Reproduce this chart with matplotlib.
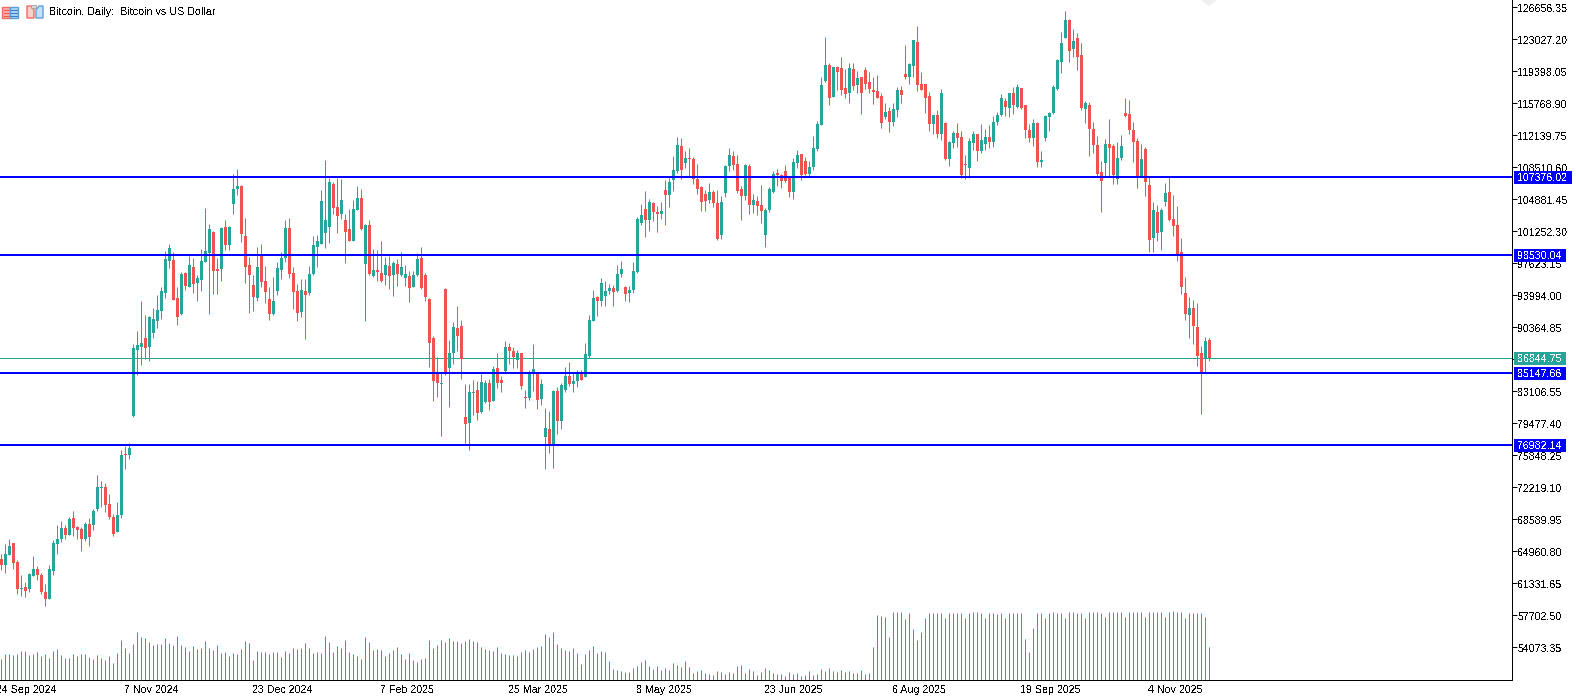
import numpy as np
import matplotlib
matplotlib.use("Agg")
import matplotlib.pyplot as plt
from matplotlib.patches import Rectangle, Polygon
from matplotlib.transforms import blended_transform_factory, ScaledTranslation

# BTCUSD daily, prices in thousands of dollars
opens = [64.1,63.4,64.5,65.9,63.7,60.65,60.9,60.65,62.1,62.9,
62.25,60.3,59.5,62.7,65.75,66.3,67.6,66.8,68.7,67.7,
67.45,66.4,68.1,67.9,69.7,72.1,72.2,70.3,68.8,67.2,
69.05,76.0,75.85,80.3,87.75,88.1,89.1,88.1,89.7,91.05,
92.2,94.3,97.85,98.0,93.65,91.85,96.5,94.9,97.15,95.35,
95.7,97.75,98.75,101.15,96.95,96.95,101.7,99.65,104.3,106.0,
106.35,100.7,97.4,95.15,93.65,98.4,95.6,93.55,91.85,94.45,
96.85,98.2,101.6,96.5,94.45,92.05,94.45,94.2,96.4,99.45,
99.8,101.0,101.7,106.6,104.0,103.2,102.5,101.5,100.1,103.65,
105.0,97.5,101.95,96.15,96.85,96.5,96.25,97.3,96.25,97.5,
96.25,95.9,96.15,94.9,96.25,98.2,96.25,93.55,89.1,85.15,
83.9,94.7,85.8,87.4,90.25,90.5,80.15,79.5,82.9,83.25,
80.7,81.85,84.0,82.0,85.7,84.35,85.4,88.1,87.65,86.6,
87.4,82.45,82.3,85.15,85.15,82.2,77.9,78.8,77.0,83.1,
79.7,83.25,84.8,83.9,84.25,85.05,84.7,87.1,91.05,93.8,
93.3,93.9,94.45,94.8,94.45,96.4,94.9,94.25,94.6,96.6,
102.15,103.75,102.5,104.45,103.4,103.2,105.9,105.35,107.05,108.05,
110.9,108.95,109.55,109.4,107.15,106.25,105.45,104.8,105.7,104.45,
100.8,105.55,108.65,109.75,108.85,106.0,105.2,108.6,104.2,104.65,
104.2,100.8,103.65,105.7,107.85,107.6,108.05,107.4,105.7,108.95,
110.0,109.2,107.7,108.5,110.55,113.3,118.35,120.1,116.45,119.85,
119.75,117.5,116.9,119.6,117.8,118.7,119.5,118.15,117.25,117.15,
116.55,114.2,114.85,113.6,114.95,117.25,119.05,118.7,120.0,122.7,
117.9,118.0,116.55,113.4,114.4,112.25,113.5,109.4,111.25,112.35,
111.9,108.85,108.4,111.25,112.25,110.3,111.1,111.9,111.35,113.6,
114.4,116.0,115.2,116.9,115.3,117.45,115.55,112.7,111.8,113.5,
109.1,111.8,114.2,114.65,117.35,120.4,123.15,125.2,121.9,123.15,
121.2,115.1,115.55,112.8,111.0,107.95,108.95,111.1,110.9,107.15,
109.55,114.65,114.5,112.7,111.45,107.4,110.55,106.5,100.45,103.4,
101.15,104.55,105.7,102.6,101.95,98.85,94.2,91.7,92.5,90.35,87.4,86.75,88.9]

highs = [64.7,65.8,66.4,65.9,64.0,62.3,61.45,62.45,64.4,63.3,
62.45,61.2,63.4,66.2,67.9,68.4,67.9,68.9,69.5,67.8,
67.7,68.25,68.7,69.8,73.6,72.9,72.7,71.5,69.2,70.5,
76.4,76.9,77.2,88.45,89.9,93.4,91.7,91.6,92.6,94.0,
94.9,99.0,99.8,98.9,94.9,96.6,96.6,98.4,98.2,96.25,
99.2,103.9,102.05,101.25,98.2,101.7,102.5,101.9,107.7,108.3,
106.45,102.7,98.3,96.25,99.45,99.8,97.3,94.9,96.05,97.75,
98.9,102.5,102.7,97.2,95.25,95.8,95.8,97.3,100.7,100.8,
105.9,109.3,107.25,106.8,107.25,107.15,103.2,103.75,104.75,106.35,
106.0,102.05,102.5,99.2,99.1,100.1,98.3,98.4,97.85,98.1,
98.9,97.4,96.7,96.7,98.75,99.45,96.5,93.65,89.35,87.0,
85.15,94.8,88.9,90.95,92.75,91.15,83.9,83.9,84.35,84.25,
85.05,84.35,84.45,85.95,87.4,84.8,88.8,88.55,88.1,87.75,
87.4,83.2,85.5,88.45,85.15,84.45,81.2,80.85,83.25,83.55,
84.0,85.85,86.4,85.15,85.5,85.5,88.55,91.7,94.55,93.9,
95.9,95.6,95.25,95.15,97.4,97.85,95.0,95.1,97.75,102.85,
104.3,105.8,104.9,104.55,104.1,104.55,107.05,107.25,109.75,111.9,
111.8,110.35,110.7,109.65,108.85,106.35,105.9,106.7,105.9,105.9,
105.2,108.75,110.65,110.3,109.9,106.35,108.85,108.85,105.45,105.2,
106.5,103.85,106.25,108.05,108.3,107.7,108.75,107.4,109.55,110.45,
110.0,109.65,109.2,112.05,113.75,118.8,123.25,120.3,119.85,119.95,
121.0,119.6,120.3,120.3,119.4,118.7,119.85,119.3,118.8,118.95,
116.9,115.75,115.3,115.75,117.6,117.7,122.35,120.3,123.0,124.5,
119.3,118.0,117.0,114.4,114.95,117.35,113.6,111.45,112.6,113.5,
112.6,109.85,111.8,112.6,112.25,113.4,112.85,113.3,114.3,114.75,
116.8,116.35,116.9,117.6,117.95,117.45,115.55,113.4,113.95,113.6,
110.3,114.4,114.75,117.8,120.75,123.8,126.2,125.3,124.15,123.7,
122.6,116.0,115.9,113.6,112.0,109.2,111.7,113.95,111.1,111.35,
112.15,116.35,116.1,113.6,111.8,111.1,110.8,107.4,104.55,104.2,
103.85,106.7,107.4,105.35,104.1,100.45,96.05,93.8,93.45,93.1,88.2,89.25,89.1]

lows = [62.8,62.5,64.5,62.9,60.1,59.9,59.75,60.3,62.1,61.7,
60.1,58.7,59.5,62.25,64.6,66.0,66.4,66.8,66.7,66.4,
65.0,66.1,65.6,67.35,69.5,70.0,69.4,68.6,66.65,67.1,
68.7,74.3,75.4,80.2,84.9,86.05,86.8,86.5,89.2,90.25,
91.3,93.65,97.05,93.45,90.6,91.7,94.55,94.9,94.2,93.4,
94.45,97.75,91.85,94.1,94.1,95.6,99.1,99.1,103.2,105.35,
100.0,95.35,91.95,92.2,93.3,94.9,93.1,91.15,91.75,94.0,
95.8,97.75,95.95,92.4,91.05,91.5,89.0,94.0,96.25,97.2,
99.8,99.3,99.9,103.2,101.0,102.6,97.6,100.1,100.1,103.65,
101.35,91.05,96.25,96.05,95.6,95.45,95.15,94.7,93.9,95.0,
96.2,95.0,93.2,94.9,96.15,94.7,93.4,85.85,82.0,82.45,
78.0,84.95,81.3,86.2,87.65,84.5,77.2,76.4,80.4,79.8,
80.6,81.75,81.0,82.0,83.45,83.0,85.25,86.2,85.7,85.7,
83.35,81.2,82.1,83.1,81.05,81.5,74.3,76.1,74.4,78.25,
78.8,83.0,83.7,83.0,83.55,84.35,84.7,86.85,91.05,91.6,
92.75,92.75,94.1,92.75,94.35,96.05,93.3,93.2,94.25,96.5,
101.95,100.6,101.25,102.4,101.15,102.6,101.95,103.95,105.8,107.85,
107.15,108.4,107.4,106.6,105.45,103.5,103.5,104.45,104.0,100.25,
100.35,105.1,108.05,108.15,105.55,102.5,104.8,103.2,103.3,103.1,
102.15,99.45,103.4,105.55,106.35,106.15,106.8,105.1,104.9,108.4,
107.05,107.6,107.5,108.15,110.3,113.3,118.15,115.55,116.45,117.25,
116.65,116.35,115.75,117.25,116.9,114.5,117.35,116.9,115.65,116.35,
112.95,113.95,112.5,113.15,114.2,115.75,118.5,117.9,118.8,117.15,
117.25,114.65,112.6,112.25,111.8,111.6,109.3,108.65,110.65,110.8,
107.25,107.15,107.25,110.45,109.2,110.1,110.45,110.65,110.8,113.3,
114.3,114.3,114.2,114.5,115.2,115.1,111.8,111.35,110.9,108.5,
108.5,111.5,112.6,114.5,117.25,119.2,123.15,120.4,121.0,119.5,
114.95,113.5,109.75,110.1,107.4,103.4,107.4,107.4,106.6,106.6,
109.3,114.2,112.25,109.1,106.15,107.4,105.25,98.9,98.9,100.1,
99.1,104.1,102.4,100.7,97.85,94.1,91.15,89.1,88.45,85.95,80.5,85.25,86.5]

closes = [63.4,64.6,65.6,63.6,60.65,60.8,60.5,62.35,62.9,62.25,
60.3,59.5,63.0,65.9,66.4,67.6,66.8,68.6,67.6,67.35,
66.4,68.1,66.55,69.5,72.2,72.3,70.2,68.9,66.9,69.05,
75.85,75.85,76.65,88.0,88.3,88.55,88.0,91.5,91.3,92.3,
94.45,98.1,99.3,93.5,91.5,96.4,95.0,97.4,95.25,96.0,
97.85,99.0,101.5,96.7,96.7,101.6,99.65,101.7,106.0,106.35,
100.9,97.2,96.25,93.8,97.2,95.45,94.35,91.85,93.3,97.05,
98.2,101.6,96.4,94.35,91.95,94.55,94.0,96.4,99.65,100.1,
104.65,102.5,106.8,103.85,102.95,104.75,101.15,100.1,103.75,105.0,
101.5,101.95,96.4,96.85,96.6,95.6,97.4,96.15,97.6,96.4,
97.2,96.4,94.8,96.25,98.1,94.8,93.8,88.55,84.25,84.1,
84.1,85.15,87.4,90.4,89.35,86.75,79.4,83.0,83.0,80.6,
84.15,84.0,81.85,85.6,84.1,84.0,88.1,87.65,87.0,87.5,
83.7,82.3,85.15,85.6,82.1,83.9,78.9,77.0,83.1,79.7,
83.8,84.8,83.9,84.25,85.15,84.35,87.3,91.15,93.65,93.3,
95.35,94.45,94.8,94.35,96.4,97.0,94.1,94.6,96.7,102.6,
103.1,102.5,104.55,103.4,103.2,103.5,105.35,106.8,108.2,111.0,
108.2,109.55,109.45,107.15,106.0,104.55,104.65,105.7,104.45,100.35,
104.55,108.65,109.9,108.75,105.8,105.2,108.75,104.2,104.8,104.1,
103.5,103.65,106.0,107.7,107.6,106.9,106.9,105.7,109.1,109.9,
107.6,107.7,108.5,110.65,113.4,117.8,120.1,116.35,119.85,119.3,
117.25,116.8,119.75,117.7,118.6,116.9,117.95,117.35,117.0,116.35,
113.5,114.75,113.7,115.1,117.25,116.7,118.7,120.2,122.9,117.8,
117.25,116.35,113.4,114.4,112.25,116.9,109.4,111.35,112.35,111.8,
107.6,108.75,111.45,112.25,110.3,111.55,111.9,111.35,113.6,114.4,
116.35,115.3,116.9,115.55,117.6,115.2,112.7,111.8,113.5,109.1,
109.3,114.3,114.65,117.6,120.65,122.6,125.2,121.75,122.8,121.0,
115.2,115.75,112.8,111.0,107.7,106.95,111.1,110.65,107.6,109.55,
110.9,114.3,112.7,111.35,107.4,109.4,106.8,100.25,103.65,101.05,
103.65,105.55,102.5,101.8,98.65,94.9,91.85,92.5,90.5,87.1,85.25,88.8,86.84]

# tick volume, no scale on the chart so the units are arbitrary
volume = [61,76,76,73,76,85,85,73,76,82,
70,76,64,85,91,73,64,64,76,70,
76,76,67,61,73,64,58,70,49,79,
118,94,79,106,142,127,124,112,103,106,
106,124,109,103,130,103,97,85,100,91,
94,115,94,88,103,79,82,70,79,76,
91,115,109,58,85,82,82,76,82,82,
67,85,79,94,91,94,109,94,79,82,
79,130,112,82,100,94,118,82,76,70,
61,127,112,88,91,88,70,79,88,97,
76,61,79,58,52,61,64,118,94,103,
118,112,124,115,115,109,115,121,115,112,
97,91,88,85,97,79,76,73,73,70,
82,88,82,91,97,100,136,127,142,106,
94,88,85,94,79,46,76,88,100,79,
85,82,55,31,28,25,22,22,34,40,
52,58,40,31,40,28,34,28,49,43,
37,55,37,19,25,28,19,16,13,25,
22,16,22,19,40,43,19,31,25,13,
22,34,28,19,16,16,10,22,16,19,
10,13,25,13,16,31,25,34,25,22,
28,22,25,19,19,28,16,19,97,193,
190,187,127,202,202,202,181,199,151,118,
142,184,199,199,199,199,184,199,199,199,
199,184,199,202,202,199,184,199,199,196,
199,184,199,199,199,199,121,82,154,199,
199,184,199,202,199,199,184,202,202,199,
199,184,202,202,202,199,187,202,202,202,
202,187,202,202,202,202,187,202,202,202,
202,187,202,205,202,202,184,199,199,199,199,187,97]

price_ticks = [126656.35,123027.20,119398.05,115768.90,112139.75,108510.60,
               104881.45,101252.30,97623.15,93994.00,90364.85,86735.70,
               83106.55,79477.40,75848.25,72219.10,68589.95,64960.80,
               61331.65,57702.50,54073.35]
date_pos = [-1,31,63,95,127,159,191,223,255,287]
date_labels = ["24 Sep 2024","7 Nov 2024","23 Dec 2024","7 Feb 2025","25 Mar 2025",
               "8 May 2025","23 Jun 2025","6 Aug 2025","19 Sep 2025","4 Nov 2025"]
levels = [107376.02,98530.04,85147.66,76982.14]
last_price = 86844.75

GREEN = "#26a69a"
RED = "#ef5350"
BLUE = "#0000ff"

plt.rcParams['font.family'] = ['Liberation Sans','DejaVu Sans']
plt.rcParams['text.antialiased'] = False
FS = 7.7

W, H = 1576, 700
fig = plt.figure(figsize=(W/100, H/100), dpi=100, facecolor="white")
ax = fig.add_axes([0, (H-679.5)/H, 1511.5/W, 679.5/H])
# a quarter pixel off the half pixel keeps the snapping of the 1px wicks regular
ax.set_xlim(-1.25/4, (1511.5-1.25)/4)
ax.set_ylim(50418, 127480)

o = np.array(opens)*1000
hi = np.array(highs)*1000
lo = np.array(lows)*1000
c = np.array(closes)*1000
idx = np.arange(len(o))
up = c >= o
colors = np.where(up, GREEN, RED)

ax.axhline(last_price, color=GREEN, lw=0.72, zorder=1)
ax.vlines(idx, lo, hi, colors=colors, lw=0.72, zorder=2)
ax.bar(idx, np.abs(c-o), bottom=np.minimum(o, c), width=0.75, color=colors, lw=0, zorder=3)
for lv in levels:
    ax.axhline(lv, color=BLUE, lw=1.44, zorder=4)

ax.spines['top'].set_visible(False)
ax.spines['left'].set_visible(False)
ax.spines['right'].set_linewidth(0.72)
ax.spines['bottom'].set_linewidth(0.72)

ax.set_yticks(price_ticks)
ax.set_yticklabels(["%.2f" % p for p in price_ticks], fontsize=FS)
ax.yaxis.tick_right()
ax.tick_params(axis='y', length=3.4, width=0.72, pad=0.8, direction='out')
down_1px = ScaledTranslation(0, -1/100, fig.dpi_scale_trans)
for lab in ax.get_yticklabels():
    lab.set_transform(lab.get_transform() + down_1px)
ax.set_xticks(date_pos[1:])
ax.set_xticklabels([])
ax.tick_params(axis='x', length=3.4, width=0.72, direction='in')

trans = blended_transform_factory(ax.transData, fig.transFigure)
for p, t in zip(date_pos, date_labels):
    ax.text(p-0.2, 1-690/H, t, transform=trans, fontsize=FS, ha='left', va='center', clip_on=False)

# labels of the horizontal levels on the price scale
tr2 = blended_transform_factory(fig.transFigure, ax.transData)
BOX_H = 13*113.41
def price_label(p, col, z):
    txt = "%.2f" % p
    w = 58 if len(txt) > 8 else 52
    ax.add_patch(Rectangle((1514/W, p-BOX_H/2), w/W, BOX_H, transform=tr2, fc=col, lw=0, zorder=z, clip_on=False))
    ax.text(1517.5/W, p, txt, transform=tr2 + down_1px, color="white", fontsize=FS, va='center', ha='left', zorder=z+0.5, clip_on=False)

price_label(last_price, GREEN, 9)
for lv in levels:
    price_label(lv, BLUE, 10)

# volume histogram on its own invisible scale
vol = fig.add_axes(ax.get_position(), sharex=ax, frameon=False)
vol.set_ylim(0, 679.5*3)
vol.vlines(idx, 0, volume, colors=GREEN, lw=0.72)
vol.axis('off')

# header icons and title, drawn in pixel coordinates
ov = fig.add_axes([0, 0, 1, 1], frameon=False)
ov.set_xlim(0, W)
ov.set_ylim(H, 0)
ov.axis('off')
ov.add_patch(Rectangle((2.5, 6.5), 8, 11, fc="#f7b0aa", ec="#ef6a60", lw=1.0))
ov.add_patch(Rectangle((10.5, 6.5), 8, 11, fc="#b5d5f0", ec="#5aa0dc", lw=1.0))
for yy in (9.5, 12.5, 15.5):
    ov.plot([4, 9.5], [yy, yy], color="#ef5a50", lw=0.8)
    ov.plot([11.5, 17.5], [yy, yy], color="#2f80c8", lw=0.8)
ov.add_patch(Polygon([(27, 6), (31, 6), (34, 10), (34, 18), (27, 18)], fc="#fbd0cc", ec="#ef6a60", lw=1.0))
ov.add_patch(Polygon([(36, 10), (39, 6), (43, 6), (43, 18), (36, 18)], fc="#c8e0f5", ec="#5aa0dc", lw=1.0))
ov.add_patch(Rectangle((31.5, 5), 5, 3, fc="#d8d8d8", ec="#a0a0a0", lw=0.6))
ov.text(49.5, 12, "Bitcoin, Daily:  Bitcoin vs US Dollar", fontsize=FS, va='center', ha='left')
ov.add_patch(Polygon([(1201, 0), (1209, 6), (1217, 0)], fc="#efefef", ec="none"))

fig.savefig("out.png", dpi=100, facecolor="white")
